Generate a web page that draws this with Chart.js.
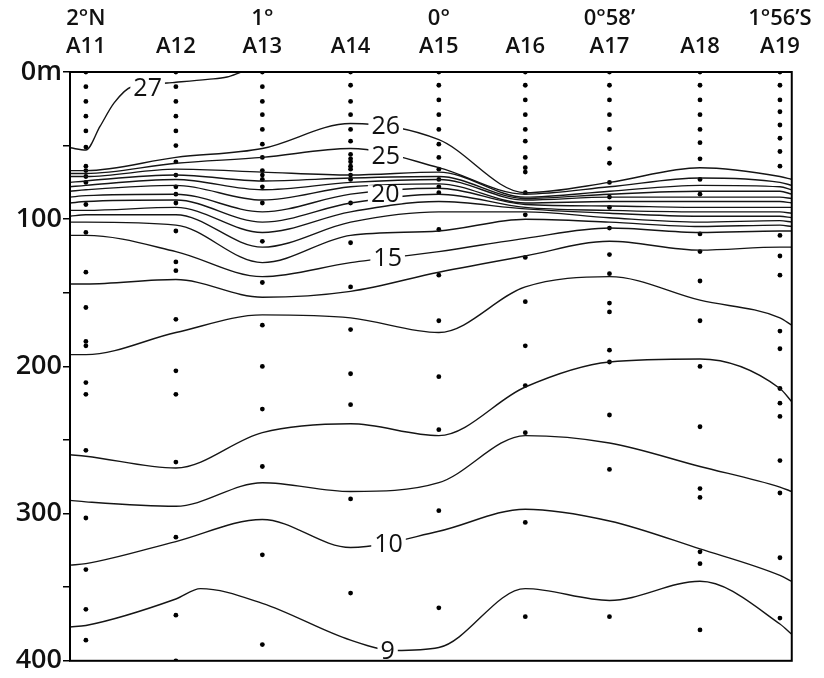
<!DOCTYPE html>
<html>
<head>
<meta charset="utf-8">
<script src="https://cdn.jsdelivr.net/npm/chart.js@4/dist/chart.umd.min.js"></script>
<style>
    body { margin: 0; background: #fff; }
</style>
</head>
<body>
<canvas id="grafico" width="824" height="678"></canvas>
<script>
// estaciones y su latitud (grados, norte positivo)
const estaciones = ['A11', 'A12', 'A13', 'A14', 'A15', 'A16', 'A17', 'A18', 'A19'];
const latTexto = ['2°N', '', '1°', '', '0°', '', '0°58’', '', '1°56’S'];
const latEstacion = [2.0, 1.49, 1.0, 0.5, 0, -0.49, -0.967, -1.48, -1.933];

// profundidades de muestreo (m)
const mA11 = [0, 10, 20, 30, 40, 51, 64, 67, 71, 75, 90, 109, 136, 160, 183, 186, 211, 219, 257, 303, 338, 365, 386];
const mA12 = [0, 10, 20, 30, 40, 50, 61, 70, 78, 83, 89, 108, 129, 135, 168, 203, 219, 265, 316, 369, 400];
const mA13 = [0, 10, 20, 29, 39, 49, 58, 67, 70, 73, 78, 89, 115, 143, 172, 200, 229, 268, 328, 389];
const mA14 = [0, 9, 20, 29, 39, 47, 56, 59, 61, 64, 66, 70, 73, 89, 116, 146, 175, 205, 226, 290, 354];
const mA15 = [0, 9, 19, 29, 39, 49, 58, 66, 73, 78, 82, 107, 138, 169, 207, 243, 298, 364];
const mA16 = [0, 9, 19, 29, 39, 47, 58, 65, 68, 82, 97, 126, 156, 186, 213, 245, 306, 370];
const mA17 = [0, 9, 19, 29, 39, 52, 62, 75, 85, 92, 106, 124, 137, 157, 163, 189, 197, 233, 270, 370];
const mA18 = [0, 9, 19, 29, 39, 48, 59, 73, 83, 110, 122, 142, 169, 200, 241, 283, 289, 326, 334, 379];
const mA19 = [0, 9, 19, 27, 36, 45, 54, 64, 111, 125, 138, 176, 188, 215, 225, 234, 264, 286, 330, 371];
const muestras = [mA11, mA12, mA13, mA14, mA15, mA16, mA17, mA18, mA19];

// isotermas: profundidad (m) en los bordes y en cada estacion
const latIso = [2.09, 2.0, 1.49, 1.0, 0.5, 0, -0.49, -0.967, -1.48, -1.933, -2.0];
const iso26 = [67, 67, 58, 52, 35, 46, 82, 75, 65, 71, 73];
const iso25 = [69, 69, 62, 58, 52, 65, 83, 78, 72, 75, 77];
const iso24 = [71, 71, 66, 68, 70, 68, 85, 81, 77, 78, 80];
const iso23 = [75, 74, 70, 74, 72, 71, 86, 83, 81, 81, 83];
const iso22 = [78, 77, 73, 80, 75, 73, 87, 85, 85, 85, 86];
const iso21 = [81, 80, 77, 87, 78, 76, 89, 88, 88, 88, 89];
const iso20 = [85, 84, 83, 95, 83, 79, 90, 91, 92, 92, 92];
const iso19 = [89, 88, 87, 102, 89, 83, 92, 94, 95, 95, 96];
const iso18 = [94, 94, 92, 109, 95, 88, 93, 96, 98, 98, 99];
const iso17 = [98, 97, 97, 119, 102, 95, 95, 99, 102, 101, 102];
const iso16 = [102, 102, 104, 129.5, 111, 108, 100, 102, 105, 104, 105];
const iso15 = [111, 111, 122, 139, 129.5, 122, 113, 106, 109, 108, 108];
const iso14 = [144, 144, 141, 153, 149, 136, 125, 115, 121, 119, 119];
const iso13 = [192, 192, 177, 165, 167, 177, 146, 139, 155, 167, 172];
const iso12 = [260, 261, 269, 245, 239, 247, 214, 197, 195, 215, 224];
const iso11 = [291, 292, 295, 279, 285, 279, 247, 252, 268, 282, 285];
const iso10 = [335, 334, 319, 304, 323, 312, 297, 305, 324, 342, 346];
const isotermas = [iso26, iso25, iso24, iso23, iso22, iso21, iso20, iso19, iso18, iso17, iso16, iso15, iso14, iso13, iso12, iso11, iso10];

const iso27Lat = [2.09, 2.0, 1.92, 1.84, 1.74, 1.65, 1.54, 1.49, 1.31, 1.2, 1.12];
const iso27 = [51.5, 53, 37, 21, 10, 9, 7.5, 7, 5, 3.4, 0];
const iso9Lat = [2.09, 2.0, 1.49, 1.35, 1.0, 0.5, 0.25, 0, -0.49, -0.967, -1.48, -1.933, -2.0];
const iso9 = [377, 376, 358, 351, 361, 386, 393, 391, 351, 359, 346, 375, 382];

// rotulos de las isotermas
const rotulos = ['27', '26', '25', '20', '15', '10', '9'];
const rotLat = [1.65, 0.301, 0.301, 0.304, 0.29, 0.285, 0.29];
const rotProf = [11, 36.6, 57, 83, 126, 320.7, 393];

function linea(lats, profs) {
    return {
        data: lats.map((la, i) => ({ x: la, y: profs[i] })),
        showLine: true,
        borderColor: '#151515',
        borderWidth: 1.4,
        pointRadius: 0,
        cubicInterpolationMode: 'monotone',
        fill: false
    };
}

let datasets = [];
datasets.push(linea(iso27Lat, iso27));
isotermas.forEach(p => datasets.push(linea(latIso, p)));
datasets.push(linea(iso9Lat, iso9));

let puntos = [];
muestras.forEach((lista, i) => {
    lista.forEach(d => puntos.push({ x: latEstacion[i], y: d }));
});
datasets.push({
    data: puntos,
    showLine: false,
    pointRadius: 2.4,
    pointBackgroundColor: '#000',
    pointBorderWidth: 0
});

const marco = {
    id: 'marco',
    afterDatasetsDraw(chart) {
        const ctx = chart.ctx;
        const a = chart.chartArea;
        const sx = chart.scales.x, sy = chart.scales.y;
        ctx.save();
        ctx.font = '500 25px "Open Sans"';
        ctx.textAlign = 'center';
        ctx.textBaseline = 'middle';
        rotulos.forEach((t, i) => {
            const px = sx.getPixelForValue(rotLat[i]);
            const py = sy.getPixelForValue(rotProf[i]);
            const w = ctx.measureText(t).width;
            ctx.fillStyle = '#fff';
            ctx.fillRect(px - w / 2 - 3, py - 9, w + 6, 18);
            ctx.fillStyle = '#111';
            ctx.fillText(t, px, py + 1);
        });
        ctx.strokeStyle = '#000';
        ctx.lineWidth = 2;
        ctx.strokeRect(a.left, a.top, a.right - a.left, a.bottom - a.top);
        ctx.restore();
    }
};

new Chart(document.getElementById('grafico'), {
    type: 'scatter',
    data: { datasets: datasets },
    options: {
        responsive: false,
        animation: false,
        layout: { padding: { left: 0, right: 19, top: 0, bottom: 16 } },
        plugins: { legend: { display: false }, tooltip: { enabled: false } },
        scales: {
            x: {
                type: 'linear',
                position: 'top',
                min: -2.0,
                max: 2.09,
                reverse: true,
                afterBuildTicks: ax => { ax.ticks = latEstacion.map(v => ({ value: v })); },
                afterFit: ax => { ax.height = 72; },
                grid: { display: false, drawTicks: false },
                border: { display: false },
                ticks: {
                    autoSkip: false,
                    maxRotation: 0,
                    padding: 12,
                    color: '#111',
                    font: { family: '"Open Sans"', size: 22, weight: '600', lineHeight: 1.25 },
                    callback: (v, i) => [latTexto[i], estaciones[i]]
                }
            },
            y: {
                min: 0,
                max: 400,
                reverse: true,
                afterFit: ax => { ax.width = 70; },
                grid: { drawOnChartArea: false, drawTicks: true, tickLength: 7, color: '#000', lineWidth: 1.5 },
                border: { display: false },
                ticks: {
                    stepSize: 50,
                    padding: 1,
                    color: '#111',
                    font: { family: '"Open Sans"', size: 27, weight: '600' },
                    callback: v => (v % 100 !== 0 ? '' : (v === 0 ? '0m' : v))
                }
            }
        }
    },
    plugins: [marco]
});
</script>
</body>
</html>
